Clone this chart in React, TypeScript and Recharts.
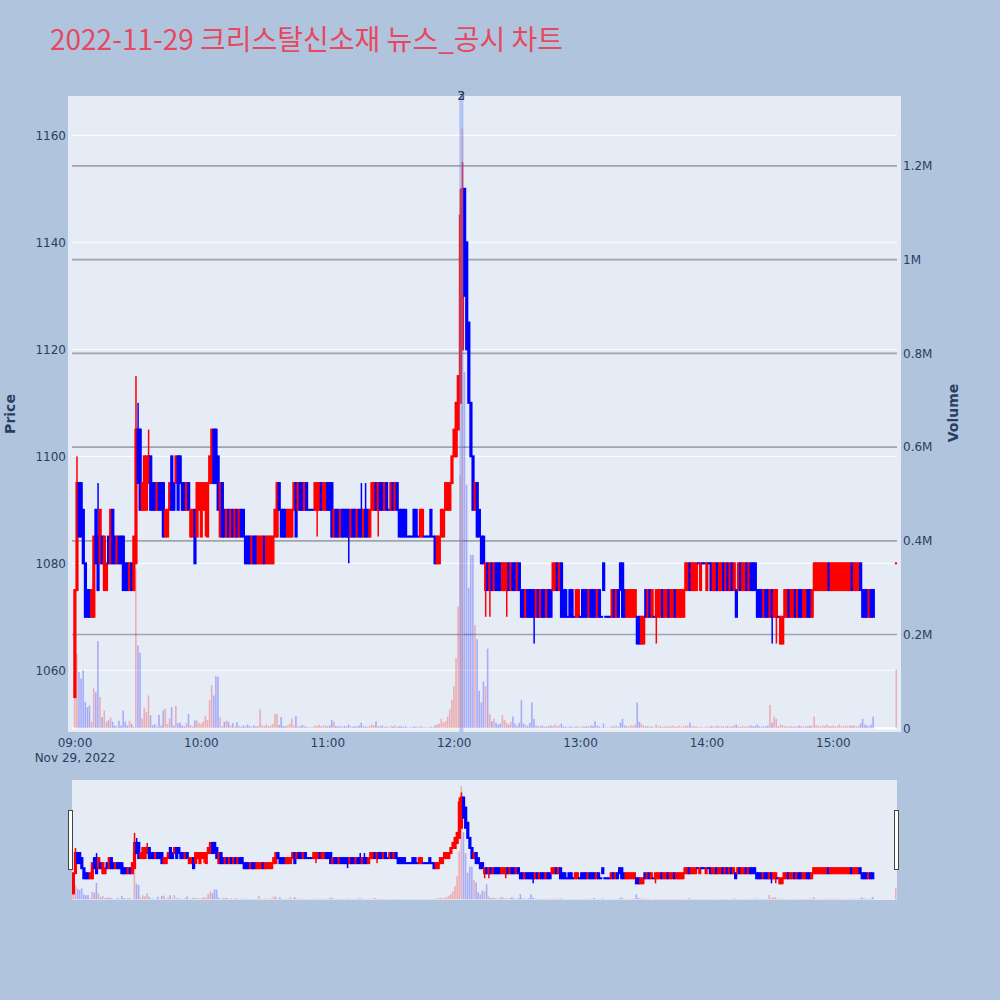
import React from 'react';
import { ComposedChart, Bar, XAxis, YAxis, ReferenceLine } from 'recharts';

// 1-minute candles, [open, close] per minute, from 09:00
const oc09 = [
  [1055, 1075], [1075, 1095], [1095, 1085], [1095, 1085], [1090, 1080], [1080, 1070], [1075, 1070], [1075, 1070], [1070, 1075], [1070, 1085],
  [1090, 1080], [1085, 1075], [1080, 1090], [1085, 1080], [1075, 1085], [1075, 1080], [1085, 1080], [1080, 1090], [1090, 1080], [1085, 1080],
  [1080, 1085], [1085, 1080], [1085, 1080], [1085, 1075], [1080, 1075], [1080, 1075], [1075, 1080], [1080, 1075], [1075, 1085], [1080, 1105],
  [1105, 1095], [1105, 1090], [1090, 1095], [1090, 1100], [1090, 1100], [1095, 1100], [1100, 1090], [1095, 1090], [1095, 1090], [1090, 1095],
  [1095, 1090], [1095, 1090], [1095, 1085], [1085, 1090], [1085, 1090], [1090, 1095], [1100, 1090], [1095, 1090], [1095, 1100], [1100, 1090],
  [1100, 1095], [1095, 1090], [1095, 1090], [1090, 1095], [1095, 1090], [1085, 1090], [1085, 1090], [1090, 1080], [1085, 1095], [1090, 1095],
];
const oc10 = [
  [1085, 1095], [1090, 1095], [1090, 1095], [1085, 1095], [1095, 1100], [1095, 1105], [1105, 1095], [1105, 1095], [1100, 1090], [1085, 1095],
  [1095, 1085], [1090, 1085], [1085, 1090], [1090, 1085], [1085, 1090], [1090, 1085], [1085, 1090], [1090, 1085], [1085, 1090], [1090, 1085],
  [1090, 1085], [1085, 1080], [1085, 1080], [1085, 1080], [1080, 1085], [1085, 1080], [1085, 1080], [1080, 1085], [1080, 1085], [1080, 1085],
  [1085, 1080], [1080, 1085], [1080, 1085], [1080, 1085], [1080, 1085], [1085, 1090], [1085, 1095], [1095, 1090], [1090, 1085], [1090, 1085],
  [1090, 1085], [1085, 1090], [1085, 1090], [1085, 1090], [1090, 1095], [1095, 1085], [1090, 1095], [1095, 1090], [1095, 1090], [1090, 1095],
  [1095, 1090], [1090, 1090], [1090, 1090], [1090, 1090], [1090, 1095], [1090, 1095], [1090, 1095], [1095, 1090], [1090, 1095], [1090, 1095],
];
const oc11 = [
  [1095, 1090], [1095, 1090], [1095, 1085], [1085, 1090], [1090, 1085], [1090, 1085], [1085, 1090], [1090, 1085], [1090, 1085], [1090, 1085],
  [1090, 1085], [1085, 1090], [1090, 1085], [1090, 1085], [1085, 1090], [1090, 1085], [1090, 1085], [1085, 1090], [1090, 1085], [1090, 1085],
  [1085, 1090], [1090, 1095], [1090, 1095], [1095, 1090], [1090, 1095], [1095, 1090], [1095, 1090], [1090, 1095], [1095, 1090], [1090, 1090],
  [1090, 1095], [1095, 1090], [1090, 1095], [1095, 1090], [1090, 1085], [1090, 1085], [1090, 1085], [1090, 1085], [1085, 1085], [1085, 1085],
  [1085, 1085], [1090, 1085], [1090, 1085], [1085, 1085], [1085, 1090], [1085, 1090], [1085, 1085], [1085, 1085], [1085, 1085], [1090, 1085],
  [1085, 1085], [1085, 1080], [1080, 1085], [1080, 1085], [1085, 1090], [1085, 1090], [1090, 1095], [1090, 1095], [1090, 1095], [1095, 1100],
];
const oc12 = [
  [1100, 1105], [1100, 1110], [1105, 1115], [1110, 1145], [1120, 1150], [1150, 1130], [1140, 1120], [1125, 1110], [1110, 1100], [1100, 1090],
  [1090, 1095], [1095, 1085], [1090, 1085], [1085, 1080], [1085, 1080], [1075, 1080], [1080, 1075], [1075, 1080], [1080, 1075], [1075, 1080],
  [1080, 1075], [1080, 1075], [1080, 1075], [1075, 1080], [1075, 1080], [1075, 1080], [1080, 1075], [1075, 1080], [1080, 1075], [1080, 1075],
  [1075, 1080], [1080, 1075], [1075, 1070], [1075, 1070], [1070, 1075], [1075, 1070], [1075, 1070], [1075, 1070], [1075, 1070], [1070, 1075],
  [1075, 1070], [1070, 1075], [1075, 1070], [1075, 1070], [1070, 1075], [1075, 1070], [1075, 1070], [1075, 1080], [1075, 1080], [1080, 1075],
  [1075, 1080], [1080, 1070], [1075, 1070], [1075, 1070], [1070, 1070], [1075, 1070], [1075, 1070], [1070, 1070], [1070, 1075], [1070, 1075],
];
const oc13 = [
  [1070, 1070], [1075, 1070], [1075, 1070], [1075, 1070], [1070, 1075], [1075, 1070], [1075, 1070], [1075, 1070], [1070, 1075], [1075, 1070],
  [1070, 1070], [1080, 1075], [1070, 1070], [1070, 1070], [1070, 1070], [1070, 1075], [1075, 1070], [1070, 1075], [1075, 1070], [1080, 1075],
  [1080, 1070], [1075, 1070], [1070, 1075], [1070, 1075], [1070, 1075], [1070, 1075], [1070, 1075], [1070, 1065], [1070, 1065], [1065, 1070],
  [1065, 1070], [1075, 1070], [1070, 1075], [1075, 1070], [1070, 1075], [1070, 1070], [1070, 1075], [1070, 1075], [1070, 1075], [1075, 1070],
  [1070, 1075], [1070, 1075], [1075, 1070], [1070, 1075], [1070, 1075], [1075, 1070], [1070, 1075], [1070, 1075], [1070, 1075], [1070, 1075],
  [1075, 1080], [1075, 1080], [1080, 1075], [1075, 1080], [1075, 1080], [1075, 1080], [1080, 1080], [1075, 1080], [1080, 1080], [1080, 1080],
];
const oc14 = [
  [1075, 1080], [1080, 1080], [1080, 1075], [1075, 1080], [1075, 1080], [1080, 1075], [1075, 1080], [1075, 1080], [1080, 1075], [1075, 1080],
  [1080, 1075], [1075, 1080], [1080, 1075], [1075, 1080], [1075, 1070], [1075, 1080], [1080, 1075], [1075, 1080], [1075, 1080], [1080, 1075],
  [1075, 1080], [1080, 1075], [1080, 1075], [1080, 1075], [1075, 1070], [1075, 1070], [1075, 1070], [1070, 1075], [1075, 1070], [1075, 1070],
  [1070, 1075], [1075, 1070], [1070, 1075], [1070, 1075], [1070, 1070], [1065, 1070], [1065, 1070], [1070, 1075], [1070, 1075], [1075, 1070],
  [1070, 1075], [1070, 1075], [1075, 1070], [1070, 1075], [1075, 1070], [1075, 1070], [1070, 1075], [1070, 1075], [1075, 1070], [1075, 1070],
  [1070, 1075], [1075, 1080], [1075, 1080], [1075, 1080], [1075, 1080], [1075, 1080], [1075, 1080], [1075, 1080], [1080, 1075], [1075, 1080],
];
const oc15 = [
  [1075, 1080], [1075, 1080], [1075, 1080], [1075, 1080], [1075, 1080], [1075, 1080], [1075, 1080], [1075, 1080], [1075, 1080], [1080, 1075],
  [1075, 1080], [1075, 1080], [1075, 1080], [1080, 1075], [1075, 1070], [1075, 1070], [1075, 1070], [1070, 1075], [1075, 1070], [1075, 1070],
];

// [minute, high, low] where the wick goes past the body
const wicks = [
  [1, 1100, 1075], [11, 1095, 1075], [29, 1115, 1080], [30, 1110, 1095], [35, 1105, 1095],
  [62, 1095, 1085], [115, 1095, 1085], [130, 1090, 1080], [136, 1095, 1085], [138, 1095, 1085],
  [144, 1095, 1085], [183, 1150, 1110], [184, 1155, 1120], [195, 1080, 1070], [197, 1080, 1070],
  [205, 1080, 1070], [218, 1075, 1065], [276, 1075, 1065], [331, 1075, 1065], [333, 1075, 1065],
];

// volume per minute, thousands of shares
const vol09 = [190, 159, 120, 106, 124, 56, 45, 49, 14, 85, 77, 186, 67, 24, 38, 14, 17, 23, 14, 6, 4, 16, 6, 38, 14, 6, 16, 10, 4, 340, 177, 161, 21, 44, 35, 70, 28, 6, 9, 4, 29, 6, 38, 42, 9, 21, 45, 6, 48, 11, 12, 6, 4, 11, 31, 7, 4, 17, 17, 11];
const vol10 = [10, 14, 26, 18, 60, 92, 70, 111, 110, 23, 4, 14, 16, 14, 6, 11, 4, 13, 5, 3, 6, 4, 8, 5, 3, 6, 4, 5, 40, 6, 4, 8, 5, 6, 9, 30, 31, 7, 24, 5, 4, 6, 9, 21, 6, 26, 5, 4, 7, 5, 3, 2, 2, 2, 6, 5, 8, 4, 5, 6];
const vol11 = [4, 6, 18, 14, 5, 4, 6, 3, 5, 4, 8, 4, 3, 5, 4, 6, 12, 5, 4, 3, 5, 8, 6, 15, 5, 4, 6, 3, 4, 2, 5, 4, 6, 3, 4, 5, 3, 4, 2, 2, 2, 4, 3, 2, 5, 4, 2, 2, 2, 4, 2, 6, 8, 10, 20, 12, 15, 25, 40, 60];
const vol12 = [90, 150, 260, 540, 1280, 760, 520, 300, 370, 370, 220, 190, 80, 55, 100, 90, 170, 30, 15, 20, 12, 8, 10, 28, 18, 12, 8, 14, 25, 10, 6, 12, 60, 10, 8, 5, 12, 55, 20, 6, 4, 5, 6, 3, 5, 4, 6, 5, 8, 4, 6, 10, 4, 3, 2, 4, 3, 2, 5, 4];
const vol13 = [2, 4, 3, 5, 4, 6, 5, 15, 6, 4, 2, 10, 2, 2, 2, 5, 4, 6, 3, 12, 20, 6, 5, 4, 6, 5, 8, 55, 14, 10, 6, 4, 5, 3, 4, 2, 8, 4, 5, 3, 4, 5, 3, 4, 6, 3, 4, 5, 3, 4, 6, 5, 12, 4, 5, 4, 2, 3, 2, 2];
const vol14 = [4, 2, 5, 4, 3, 6, 4, 5, 3, 4, 5, 3, 4, 6, 8, 4, 3, 5, 4, 3, 5, 6, 4, 5, 8, 4, 3, 5, 4, 6, 50, 12, 25, 20, 4, 8, 6, 5, 4, 3, 5, 4, 3, 5, 6, 4, 3, 5, 4, 6, 5, 25, 6, 5, 4, 6, 5, 8, 4, 5];
const vol15 = [6, 4, 5, 8, 4, 5, 6, 4, 7, 5, 6, 4, 5, 10, 20, 8, 6, 5, 8, 25];

// 15:30 closing auction
const closingAuction = { t: 390, open: 1080, close: 1080, vol: 125 };

// news markers (minute from 09:00)
const newsMarks = [
  { t: 183.4, label: '2' },
  { t: 183.4, label: '3' },
];

const priceTicks = [1060, 1080, 1100, 1120, 1140, 1160];
const volTicks = [0, 200000, 400000, 600000, 800000, 1000000, 1200000];
const timeTicks = [0, 60, 120, 180, 240, 300, 360];
const timeLabels = ['09:00', '10:00', '11:00', '12:00', '13:00', '14:00', '15:00'];
const dateLabel = 'Nov 29, 2022';
const title = '2022-11-29 크리스탈신소재 뉴스_공시 차트';

const PRICE_DOMAIN = [1048.47, 1167.35];
const VOL_DOMAIN = [-7900, 1349200];
const TIME_DOMAIN = [-1.42, 390.2];
const SLIDER_TIME_DOMAIN = [-0.7, 390.45];

const RED = '#ff0000';
const BLUE = '#0000ff';
const FONT = "'DejaVu Sans', Verdana, sans-serif";
const INK = '#2a3f5f';

const ocAll = [...oc09, ...oc10, ...oc11, ...oc12, ...oc13, ...oc14, ...oc15];
const volAll = [...vol09, ...vol10, ...vol11, ...vol12, ...vol13, ...vol14, ...vol15];

const candles: any[] = ocAll.map(([open, close], t) => {
  const w = wicks.find((k) => k[0] === t);
  return {
    t, open, close,
    high: w ? w[1] : Math.max(open, close),
    low: w ? w[2] : Math.min(open, close),
    vol: volAll[t] * 1000,
  };
});
candles.push({
  t: closingAuction.t, open: closingAuction.open, close: closingAuction.close,
  high: closingAuction.close, low: closingAuction.close, vol: closingAuction.vol * 1000,
});
candles.forEach((c, i) => {
  const prev = i > 0 ? candles[i - 1].close : c.open;
  c.up = c.close > c.open || (c.close === c.open && c.close > prev);
});

function Candle(props: any) {
  const { x, y, width, height, payload, bodyW, wickW } = props;
  if (payload == null || x == null || y == null) return null;
  const cx = x + (width || 0) / 2;
  const top = Math.min(y, y + (height || 0));
  const bot = Math.max(y, y + (height || 0));
  const span = payload.high - payload.low;
  const ppu = span > 0 ? (bot - top) / span : 0;
  const bTop = top + (payload.high - Math.max(payload.open, payload.close)) * ppu;
  const bBot = top + (payload.high - Math.min(payload.open, payload.close)) * ppu;
  const color = payload.up ? RED : BLUE;
  return (
    <g>
      {span > 0 && <rect x={cx - wickW / 2} y={top} width={wickW} height={bot - top} fill={color} />}
      <rect x={cx - bodyW / 2} y={bTop - 1} width={bodyW} height={bBot - bTop + 2} fill={color} />
    </g>
  );
}

function VolBar(props: any) {
  const { x, y, width, height, payload, barW } = props;
  if (payload == null || x == null || y == null) return null;
  const cx = x + (width || 0) / 2;
  const top = Math.min(y, y + (height || 0));
  const bot = Math.max(y, y + (height || 0));
  return (
    <rect x={cx - barW / 2} y={top} width={barW} height={bot - top}
      fill={payload.up ? RED : BLUE} fillOpacity={0.27} />
  );
}

function TimeTick(props: any) {
  const { x, y, payload } = props;
  const i = timeTicks.indexOf(payload.value);
  return (
    <g>
      <text x={x} y={y + 15} textAnchor="middle" fill={INK} fontSize={12} fontFamily={FONT}>{timeLabels[i]}</text>
      {i === 0 && (
        <text x={x} y={y + 30} textAnchor="middle" fill={INK} fontSize={12} fontFamily={FONT}>{dateLabel}</text>
      )}
    </g>
  );
}

const fmtVol = (v: number) => (v === 0 ? '0' : `${v / 1e6}M`);
const tickStyle = { fill: INK, fontSize: 12, fontFamily: FONT };

const MAIN_HIDDEN = { top: 96, left: 72, right: 103, bottom: 268 };
const MAIN_AXES = { top: 96, left: 12, right: 43, bottom: 228 };
const SLIDER = { top: 780, left: 72, right: 103, bottom: 100 };

const layer: React.CSSProperties = { position: 'absolute', left: 0, top: 0, pointerEvents: 'none' };

function hiddenAxes(xDomain: number[]) {
  return [
    <XAxis key="x" dataKey="t" type="number" domain={xDomain} allowDataOverflow hide />,
    <YAxis key="p" yAxisId="p" type="number" domain={PRICE_DOMAIN} allowDataOverflow hide />,
    <YAxis key="v" yAxisId="v" type="number" domain={VOL_DOMAIN} allowDataOverflow hide />,
  ];
}

function CandleLayer({ margin, xDomain }: any) {
  return (
    <div style={layer}>
      <ComposedChart width={1000} height={1000} data={candles} margin={margin}>
        {hiddenAxes(xDomain)}
        <Bar yAxisId="p" dataKey={(d: any) => [d.low, d.high]} barSize={3}
          isAnimationActive={false}
          shape={(p: any) => <Candle {...p} bodyW={3.2} wickW={1.5} />} />
      </ComposedChart>
    </div>
  );
}

function VolumeLayer({ margin, xDomain, marks }: any) {
  return (
    <div style={layer}>
      <ComposedChart width={1000} height={1000} data={candles} margin={margin}>
        {hiddenAxes(xDomain)}
        {marks && newsMarks.map((n, i) => (
          <ReferenceLine key={i} yAxisId="p" x={n.t} stroke="#6f8ff0" strokeOpacity={0.25} strokeWidth={4}
            label={{ value: n.label, position: 'top', offset: -4, fill: INK, fontSize: 12, fontFamily: FONT }} />
        ))}
        <Bar yAxisId="v" dataKey="vol" barSize={1.6} isAnimationActive={false}
          shape={(p: any) => <VolBar {...p} barW={1.6} />} />
      </ComposedChart>
    </div>
  );
}

export default function App() {
  return (
    <div style={{ position: 'absolute', left: 0, top: 0, width: 1000, height: 1000, background: '#b0c4de', overflow: 'hidden' }}>
      {/* plot backgrounds */}
      <div style={{ position: 'absolute', left: 68, top: 96, width: 833, height: 636, background: '#e5ecf6' }} />
      <div style={{ position: 'absolute', left: 72, top: 780, width: 825, height: 120, background: '#e5ecf6' }} />

      {/* axes + grid */}
      <div style={layer}>
        <ComposedChart width={1000} height={1000} data={candles} margin={MAIN_AXES}>
          <XAxis dataKey="t" type="number" domain={TIME_DOMAIN} allowDataOverflow ticks={timeTicks} interval={0}
            height={40} tickSize={0} tickMargin={0} axisLine={false} tick={<TimeTick />} />
          <YAxis yAxisId="p" orientation="left" width={60} type="number" domain={PRICE_DOMAIN} allowDataOverflow
            ticks={priceTicks} interval={0} tickSize={0} tickMargin={6} axisLine={false} tick={tickStyle} />
          <YAxis yAxisId="v" orientation="right" width={60} type="number" domain={VOL_DOMAIN} allowDataOverflow
            ticks={volTicks} interval={0} tickSize={0} tickMargin={6} axisLine={false} tick={tickStyle}
            tickFormatter={fmtVol} />
          {priceTicks.map((v) => (
            <ReferenceLine key={`p${v}`} yAxisId="p" y={v} stroke="#ffffff" strokeWidth={1} />
          ))}
          {volTicks.filter((v) => v > 0).map((v) => (
            <ReferenceLine key={`v${v}`} yAxisId="v" y={v} stroke="#a0a4ac" strokeWidth={1.6} />
          ))}
          <ReferenceLine yAxisId="v" y={0} stroke="#ffffff" strokeWidth={2} />
        </ComposedChart>
      </div>

      <CandleLayer margin={MAIN_HIDDEN} xDomain={TIME_DOMAIN} />
      <VolumeLayer margin={MAIN_HIDDEN} xDomain={TIME_DOMAIN} marks />

      <CandleLayer margin={SLIDER} xDomain={SLIDER_TIME_DOMAIN} />
      <VolumeLayer margin={SLIDER} xDomain={SLIDER_TIME_DOMAIN} />

      {/* range slider handles */}
      <div style={{ position: 'absolute', left: 68, top: 810, width: 3, height: 58, background: '#fff', border: '1px solid #444' }} />
      <div style={{ position: 'absolute', left: 894, top: 810, width: 3, height: 58, background: '#fff', border: '1px solid #444' }} />

      {/* titles */}
      <svg width={1000} height={1000} style={layer}>
        <text x={50} y={50} fontSize={28} fill="#e8485f" fontFamily="'Noto Sans CJK KR', 'Noto Sans', sans-serif">{title}</text>
        <text x={15} y={414} transform="rotate(-90 15 414)" textAnchor="middle" fontSize={14} fontWeight="bold" fill={INK} fontFamily={FONT}>Price</text>
        <text x={958} y={413} transform="rotate(-90 958 413)" textAnchor="middle" fontSize={14} fontWeight="bold" fill={INK} fontFamily={FONT}>Volume</text>
      </svg>
    </div>
  );
}
